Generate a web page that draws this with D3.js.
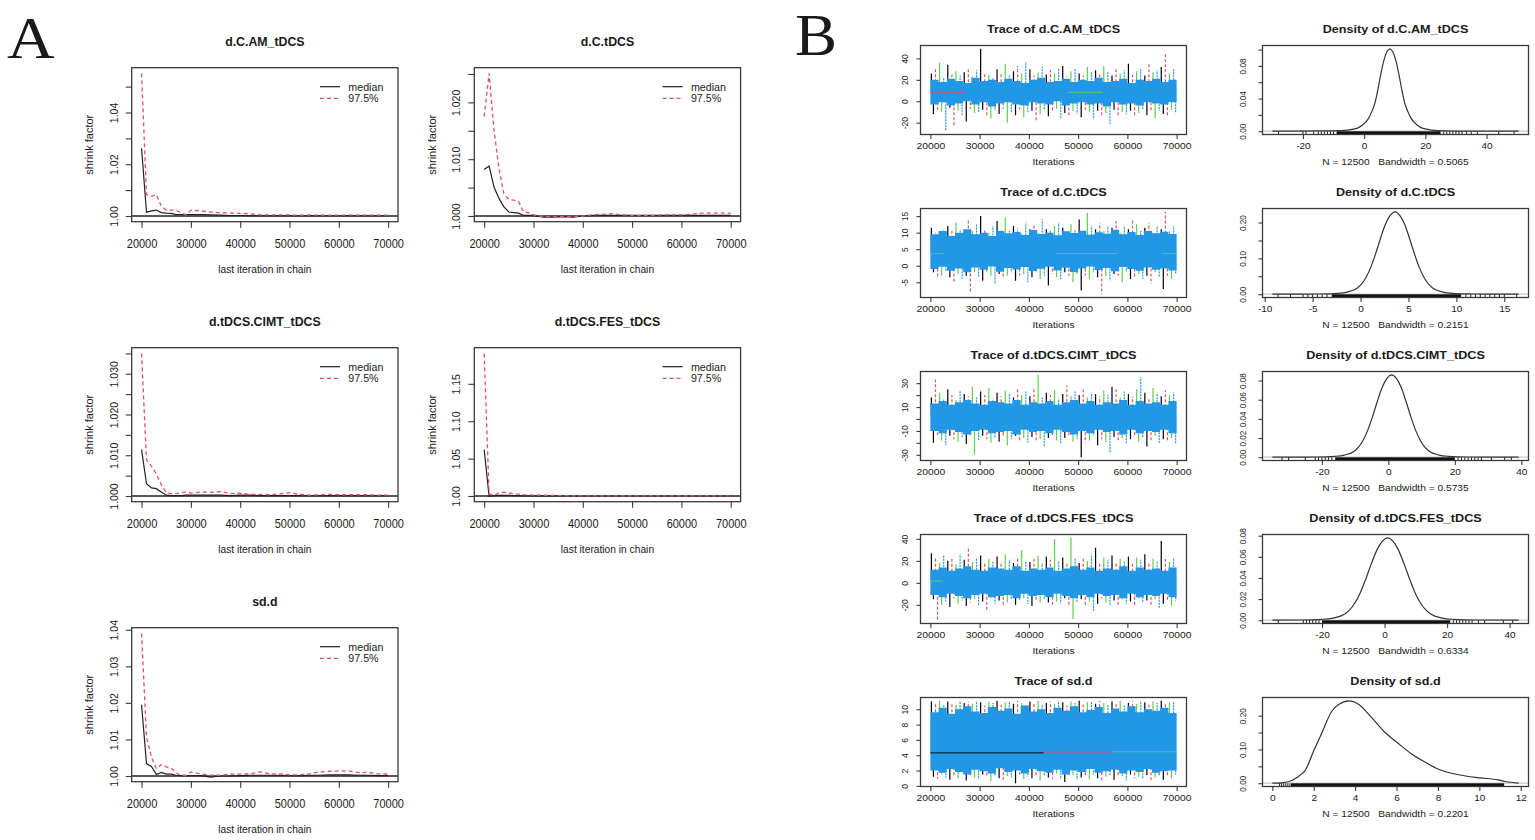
<!DOCTYPE html>
<html>
<head>
<meta charset="utf-8">
<script src="https://cdn.jsdelivr.net/npm/d3@7"></script>
<style>
  body { margin: 0; background: #fff; }
  svg { display: block; }
  text { white-space: pre; }
</style>
</head>
<body>
<svg id="fig" width="1535" height="840"></svg>
<script>
// ---------- data ----------
var params = ["d.C.AM_tDCS", "d.C.tDCS", "d.tDCS.CIMT_tDCS", "d.tDCS.FES_tDCS", "sd.d"];
var chainColors = ["#000000", "#DF536B", "#61D04F", "#2297E6"];

// Gelman-Rubin shrink factor (A)
var gelmanIter = [20000, 21000, 22000, 23000, 24000, 25000, 26000, 27000, 28000, 29000, 30000,
  32000, 34000, 36000, 38000, 40000, 42000, 44000, 46000, 48000, 50000,
  52000, 54000, 56000, 58000, 60000, 62000, 64000, 66000, 68000, 70000];

var medianAM = [1.0261, 1.0015, 1.002, 1.0023, 1.0013, 1.0011, 1.001, 1.0005, 1.0005, 1.0005, 1.0005,
  1.0005, 1.0004, 1.0003, 1.0002, 1.0002, 1.0001, 1.0001, 1.0001, 1.0001, 1.0001,
  1.0001, 1.0002, 1.0001, 1.0001, 1.0001, 1.0002, 1.0001, 1.0001, 1.0001, 1.0001];
var upperAM = [1.0551, 1.0083, 1.0076, 1.0083, 1.0038, 1.0023, 1.0023, 1.0022, 1.0012, 1.0005, 1.0022,
  1.002, 1.0015, 1.0013, 1.0011, 1.001, 1.0009, 1.0004, 1.0004, 1.0004, 1.0004,
  1.0003, 1.0004, 1.0003, 1.0003, 1.0003, 1.0004, 1.0003, 1.0004, 1.0003, 1.0003];

var medianC = [1.0082, 1.0088, 1.0051, 1.0031, 1.0016, 1.0007, 1.0006, 1.0005, 1.0001, 1.0001, 1.0001,
  0.9998, 0.9998, 0.9999, 0.9998, 1.0, 1.0001, 1.0001, 1.0001, 1.0001, 1.0001,
  1.0001, 1.0001, 1.0001, 1.0001, 1.0001, 1.0001, 1.0001, 1.0001, 1.0001, 1.0001];
var upperC = [1.0175, 1.0251, 1.0151, 1.0084, 1.0039, 1.0029, 1.0028, 1.0025, 1.0007, 1.0006, 1.0002,
  0.9999, 0.9999, 0.9999, 0.9999, 1.0, 1.0002, 1.0003, 1.0004, 1.0002, 1.0001,
  1.0001, 1.0001, 1.0002, 1.0002, 1.0002, 1.0003, 1.0005, 1.0005, 1.0005, 1.0005];

var medianCIMT = [1.0114, 1.003, 1.002, 1.0018, 1.001, 1.0002, 1.0001, 1.0001, 1.0001, 1.0002, 1.0002,
  1.0002, 1.0002, 1.0002, 1.0001, 1.0002, 1.0002, 1.0001, 1.0001, 1.0001, 1.0001,
  1.0001, 1.0001, 1.0001, 1.0001, 1.0001, 1.0001, 1.0001, 1.0001, 1.0001, 1.0001];
var upperCIMT = [1.035, 1.0089, 1.0073, 1.0054, 1.0028, 1.0008, 1.0006, 1.0006, 1.0008, 1.001, 1.0007,
  1.001, 1.0009, 1.0011, 1.0006, 1.0007, 1.0004, 1.0004, 1.0003, 1.0005, 1.0008,
  1.0004, 1.0002, 1.0003, 1.0004, 1.0003, 1.0003, 1.0003, 1.0003, 1.0002, 1.0002];

var medianFES = [1.0622, 0.9995, 1.0004, 1.0007, 1.0009, 1.0008, 1.0005, 1.0004, 1.0002, 1.0001, 1.0001,
  1.0001, 1.0001, 1.0, 1.0, 1.0, 1.0, 1.0, 1.0, 1.0, 1.0,
  1.0, 1.0, 1.0, 1.0, 1.0, 1.0, 1.0, 1.0, 1.0, 1.0];
var upperFES = [1.1907, 1.003, 1.001, 1.004, 1.005, 1.004, 1.003, 1.0025, 1.0018, 1.0015, 1.0012,
  1.001, 1.0007, 1.0004, 1.0002, 1.0001, 1.0001, 1.0001, 1.0001, 1.0001, 1.0001,
  1.0001, 1.0001, 1.0001, 1.0001, 1.0001, 1.0001, 1.0001, 1.0001, 1.0001, 1.0001];

var medianSD = [1.0195, 1.0034, 1.0026, 1.0004, 1.001, 1.0005, 1.0005, 1.0002, 1.0001, 1.0001, 1.0001,
  1.0001, 0.9997, 1.0, 1.0, 1.0001, 1.0002, 1.0002, 1.0002, 1.0002, 1.0001,
  1.0001, 1.0002, 1.0002, 1.0003, 1.0003, 1.0003, 1.0002, 1.0002, 1.0001, 1.0001];
var upperSD = [1.039, 1.0106, 1.0052, 1.002, 1.0031, 1.0025, 1.0022, 1.0008, 1.0002, 1.0002, 1.0011,
  1.0006, 1.0002, 1.0002, 1.0005, 1.0005, 1.0006, 1.0011, 1.0006, 1.0006, 1.0003,
  1.0003, 1.0006, 1.0011, 1.0013, 1.0014, 1.0014, 1.0009, 1.001, 1.0006, 1.0005];

var gelmanYTicks = [
  [1.00, 1.01, 1.02, 1.03, 1.04, 1.05],
  [1.000, 1.005, 1.010, 1.015, 1.020, 1.025],
  [1.000, 1.005, 1.010, 1.015, 1.020, 1.025, 1.030, 1.035],
  [1.00, 1.05, 1.10, 1.15],
  [1.00, 1.01, 1.02, 1.03, 1.04]];
var gelmanYLabels = [
  ["1.00", "1.02", "1.04"],
  ["1.000", "1.010", "1.020"],
  ["1.000", "1.010", "1.020", "1.030"],
  ["1.00", "1.05", "1.10", "1.15"],
  ["1.00", "1.01", "1.02", "1.03", "1.04"]];
var iterTicks = [20000, 30000, 40000, 50000, 60000, 70000];
var iterLabels = ["20000", "30000", "40000", "50000", "60000", "70000"];

// Trace plots (B): extreme excursions per stretch of iterations, chain = index mod 4
var traceHiAM = [26, 30, 36, 22, 34, 25, 28, 24, 27, 31, 23, 29, 49, 27, 25, 22, 30, 26, 35, 24,
  28, 33, 26, 37, 30, 24, 27, 32, 25, 29, 26, 31, 33, 23, 28, 30, 26, 24, 32, 27,
  29, 25, 33, 27, 24, 30, 26, 29, 35, 25, 28, 31, 24, 36, 27, 29, 32, 44, 26, 30];
var traceLoAM = [-12, -8, -10, -28, -6, -24, -9, -13, -19, -7, -11, -10, -8, -14, -16, -9, -12, -7, -20, -10,
  -13, -8, -15, -11, -9, -18, -12, -8, -14, -10, -7, -16, -11, -13, -9, -12, -15, -8, -10, -17,
  -9, -13, -11, -21, -8, -14, -10, -12, -9, -15, -11, -8, -13, -10, -16, -9, -12, -14, -8, -11];
var traceHiC = [11.5, 10, 9.5, 11, 12, 10.5, 13, 11, 9.8, 14, 10.5, 12.5, 15, 11, 10, 12, 13.5, 11, 14.5, 10.5,
  12, 11.5, 9.8, 13, 11, 12.5, 10, 14, 11, 10.5, 12, 13, 11.5, 9.9, 12.5, 11, 14, 10.5, 16, 12,
  11, 13, 10.5, 12, 11.5, 13.5, 10, 12, 11, 14, 12.5, 10.5, 11.5, 13, 10, 12, 11, 16.3, 10.5, 12];
var traceLoC = [-2, -4, -3, -1.5, -3.5, -5, -2.5, -4, -3, -8, -2, -3.5, -4.5, -2, -3, -5.5, -2.5, -4, -3, -2,
  -4.5, -3, -2.5, -5, -3.5, -2, -4, -3, -6, -2.5, -3.5, -4, -2, -3, -5, -2.5, -7.5, -3, -4, -2,
  -3.5, -8.6, -3, -4.5, -2.5, -3, -5, -2, -4, -3.5, -2.5, -4, -3, -5.5, -2, -3.5, -7, -3, -4, -2.5];
var traceHiCIMT = [18, 33, 22, 17, 25, 20, 16, 24, 21, 19, 27, 18, 23, 20, 26, 17, 22, 19, 24, 21,
  18, 25, 20, 23, 19, 26, 37, 18, 22, 20, 24, 17, 21, 28, 19, 23, 20, 25, 18, 22,
  21, 19, 24, 20, 27, 25, 18, 23, 21, 19, 25, 35, 22, 18, 26, 21, 19, 24, 20, 22];
var traceLoCIMT = [-20, -15, -18, -22, -14, -17, -19, -16, -21, -15, -30, -18, -14, -17, -20, -16, -19, -15, -22, -17,
  -14, -18, -16, -20, -15, -19, -17, -23, -16, -14, -18, -21, -16, -15, -19, -17, -32, -20, -18, -14,
  -22, -17, -19, -28, -15, -18, -16, -21, -17, -15, -19, -16, -23, -18, -14, -20, -17, -19, -16, -21];
var traceHiFES = [27, 22, 18, 25, 20, 24, 17, 26, 21, 33, 19, 23, 25, 18, 22, 20, 24, 19, 26, 21,
  18, 23, 30, 20, 19, 22, 25, 18, 24, 21, 40, 20, 23, 19, 41, 22, 18, 24, 20, 26,
  32, 19, 23, 21, 25, 18, 22, 20, 24, 19, 23, 21, 26, 18, 22, 20, 38, 24, 19, 23];
var traceLoFES = [-15, -34, -20, -17, -22, -14, -19, -16, -21, -18, -15, -20, -17, -25, -14, -19, -16, -22, -18, -15,
  -20, -17, -14, -19, -21, -16, -18, -15, -18, -20, -17, -19, -14, -22, -33, -18, -15, -20, -17, -26,
  -19, -14, -18, -21, -16, -20, -15, -19, -17, -22, -14, -18, -16, -20, -15, -23, -19, -17, -21, -16];
var traceHiSD = [11, 10.8, 11.1, 10.5, 11, 10.9, 10.6, 11.1, 10.8, 11, 10.7, 11.1, 10.9, 10.5, 11, 10.8, 11.1, 10.6, 10.9, 11,
  10.7, 11.1, 10.8, 10.5, 11, 10.9, 11.1, 10.6, 10.8, 11, 10.7, 11.1, 10.9, 10.5, 11, 10.8, 11.1, 10.6, 10.9, 11,
  10.7, 11.1, 10.8, 10.6, 11, 10.9, 11.1, 10.5, 10.8, 11, 10.7, 11.1, 10.9, 10.6, 11, 10.8, 11.1, 10.7, 10.9, 11];
var traceLoSD = [1.2, 0.9, 1.5, 1.1, 0.8, 1.4, 1.0, 1.6, 0.7, 1.3, 1.1, 0.9, 1.5, 1.2, 0.6, 1.4, 1.0, 0.8, 1.3, 1.1,
  0.35, 1.5, 0.9, 1.2, 1.0, 1.4, 0.7, 1.3, 1.1, 0.9, 1.6, 1.0, 0.5, 1.2, 1.4, 0.8, 1.1, 1.3, 0.9, 1.5,
  1.0, 0.6, 1.2, 1.4, 0.8, 1.1, 1.3, 0.7, 1.5, 1.0, 1.2, 0.9, 1.4, 0.6, 1.1, 1.3, 0.8, 1.2, 1.0, 1.5];

var traceMean = [8.4, 3.7, 1.5, 1.0, 4.4];
// dense central band of the last (blue) chain, in equal stretches of iterations
var coreHiAM = [20, 18, 21, 19, 17, 22, 19, 20, 18, 21, 19, 17, 20, 22, 18, 19, 21, 18, 20, 19,
  22, 18, 19, 21, 17, 20, 19, 21, 18, 20];
var coreLoAM = [-3, -1, -4, -2, 0, -3, -1, -5, -2, -1, -3, -4, -1, -2, -3, 0, -4, -2, -1, -3,
  -2, -5, -1, -3, -2, -4, -1, -2, -3, -1];
var coreHiC = [9.5, 10.5, 9, 10, 11, 9.5, 10, 9, 10.5, 9.8, 10.2, 9.3, 10.8, 9.6, 10, 9.2, 10.4, 9.9, 10.6, 9.4,
  10.1, 9.7, 10.9, 9.5, 10.2, 9.3, 10.5, 9.8, 10.3, 9.6];
var coreLoC = [-1, -0.3, -1.5, -0.8, -2, -0.5, -1.2, -0.2, -1.8, -0.7, -1.1, -0.4, -1.6, -0.9, -0.3, -1.4, -0.6, -1.9, -0.8, -0.2,
  -1.3, -0.7, -1.7, -0.4, -1, -1.5, -0.5, -1.2, -0.8, -1.4];
var coreHiCIMT = [13, 15, 12, 14, 16, 13, 12, 15, 14, 13, 16, 12, 14, 13, 15, 12, 14, 16, 13, 15,
  12, 14, 13, 16, 12, 15, 13, 14, 12, 15];
var coreLoCIMT = [-10, -12, -9, -11, -13, -10, -9, -12, -11, -10, -13, -9, -11, -10, -12, -9, -11, -13, -10, -12,
  -9, -11, -10, -13, -9, -12, -10, -11, -9, -12];
var coreHiFES = [12, 14, 11, 13, 15, 12, 11, 14, 13, 12, 15, 11, 13, 12, 14, 11, 13, 15, 12, 14,
  11, 13, 12, 15, 11, 14, 12, 13, 11, 14];
var coreLoFES = [-11, -13, -10, -12, -14, -11, -10, -13, -12, -11, -14, -10, -12, -11, -13, -10, -12, -14, -11, -13,
  -10, -12, -11, -14, -10, -13, -11, -12, -10, -13];
var coreHiSD = [9.6, 10.2, 9.4, 10, 10.4, 9.7, 9.5, 10.3, 9.8, 10.1, 9.4, 10.5, 9.7, 10, 9.5, 10.2, 9.8, 10.4, 9.6, 9.9,
  10.3, 9.5, 10.1, 9.7, 10.4, 9.6, 10, 9.8, 10.2, 9.5];
var coreLoSD = [2, 1.7, 2.2, 1.8, 1.5, 2.1, 1.9, 1.6, 2.3, 1.8, 2, 1.6, 2.2, 1.9, 1.7, 2.1, 1.5, 2, 1.8, 2.2,
  1.7, 1.9, 2.1, 1.6, 2, 1.8, 2.2, 1.7, 1.9, 2];
// flat running segments visible in the traces: [from, to, value, chain]
var flatAM = [[20000, 27000, 8.2, 1], [48000, 55000, 8.3, 2]];
var flatC = [[20000, 23000, 3.7, 2], [45500, 58000, 3.7, 2], [67000, 70000, 3.7, 2]];
var flatCIMT = [];
var flatFES = [[20000, 22500, 1.5, 2]];
var flatSD = [[20000, 43000, 4.3, 0], [43000, 57000, 4.4, 1], [57000, 70000, 4.45, 2]];

var traceYTicks = [[-20, 0, 20, 40], [-5, 0, 5, 10, 15], [-30, -20, -10, 0, 10, 20, 30], [-20, 0, 20, 40], [0, 2, 4, 6, 8, 10]];
var traceYLabels = [["-20", "0", "20", "40"], ["-5", "0", "5", "10", "15"], ["-30", "-10", "10", "30"], ["-20", "0", "20", "40"], ["0", "2", "4", "6", "8", "10"]];

// Density curves (B): [x, density]
var densAM = [[-30, 0], [-22, 0.0001], [-15, 0.0003], [-7.4, 0.0006], [-3.5, 0.0025], [-1.5, 0.005], [0.5, 0.011],
  [1.5, 0.016], [2.5, 0.024], [3.5, 0.034], [4.5, 0.051], [5.4, 0.069], [6.4, 0.086], [7.4, 0.097], [8.4, 0.101],
  [9.4, 0.097], [10.4, 0.086], [11.4, 0.069], [12.3, 0.051], [13.3, 0.034], [14.3, 0.024], [15.3, 0.016],
  [16.3, 0.011], [18.3, 0.005], [20.3, 0.0025], [24.2, 0.0006], [30, 0.0002], [38, 0.00005], [50.5, 0]];
var densC = [[-9.2, 0], [-6, 0.0002], [-4.4, 0.0006], [-2.4, 0.0025], [-1.4, 0.006], [-0.4, 0.016], [0.1, 0.028],
  [0.6, 0.048], [1.1, 0.077], [1.6, 0.115], [2.1, 0.157], [2.6, 0.195], [3.1, 0.22], [3.6, 0.23], [4.1, 0.22],
  [4.6, 0.195], [5.1, 0.157], [5.6, 0.115], [6.1, 0.077], [6.6, 0.048], [7.1, 0.028], [7.6, 0.016], [8.6, 0.006],
  [9.6, 0.0025], [11.6, 0.0006], [13.5, 0.0001], [16.5, 0]];
var densCIMT = [[-34.9, 0], [-27.5, 0.00006], [-21.8, 0.00022], [-16.1, 0.00095], [-13.25, 0.0022], [-10.4, 0.006],
  [-8.98, 0.0105], [-7.55, 0.018], [-6.13, 0.0288], [-4.7, 0.043], [-3.28, 0.0587], [-1.85, 0.0729], [-0.43, 0.0823],
  [1.0, 0.086], [2.43, 0.0823], [3.85, 0.0729], [5.28, 0.0587], [6.7, 0.043], [8.13, 0.0288], [9.55, 0.018],
  [10.98, 0.0105], [12.4, 0.006], [15.25, 0.0022], [18.1, 0.00095], [23.8, 0.00022], [29.5, 0.00006], [39.2, 0]];
var densFES = [[-35.9, 0], [-27, 0.0002], [-20, 0.00086], [-16.5, 0.002], [-13, 0.0055], [-11.25, 0.0095], [-9.5, 0.0163],
  [-7.75, 0.0261], [-6, 0.039], [-4.25, 0.0533], [-2.5, 0.0661], [-0.75, 0.0746], [1.0, 0.078], [2.75, 0.0746],
  [4.5, 0.0661], [6.25, 0.0533], [8, 0.039], [9.75, 0.0261], [11.5, 0.0163], [13.25, 0.0095], [15, 0.0055],
  [18.5, 0.002], [22, 0.00086], [29, 0.0002], [42.9, 0]];
var densSD = [[0, 0], [0.45, 0.001], [0.94, 0.008], [1.26, 0.02], [1.58, 0.037], [2.0, 0.096], [2.4, 0.15], [2.87, 0.213],
  [3.2, 0.233], [3.7, 0.244], [4.16, 0.234], [4.8, 0.194], [5.45, 0.15], [6.0, 0.122], [6.74, 0.086], [7.4, 0.062],
  [8.0, 0.042], [9.0, 0.025], [10.0, 0.016], [10.9, 0.01], [11.25, 0.005], [11.9, 0]];

// rug of the samples: dense span and isolated values
var rugSpan = [[-9, 25], [-3, 10.5], [-16, 20], [-20, 21], [0.9, 11.2]];
var rugAM = [-28, -20, -19, -16.5, -15, -14, -13, -12, -11, -10, 26, 27, 28, 29, 30, 31, 32, 33.5, 35, 37, 44, 49];
var rugC = [-8.6, -7.3, -6, -5.5, -5, -4.5, -4, -3.5, 11, 11.5, 12, 12.5, 13, 13.5, 14, 14.5, 15, 16.3];
var rugCIMT = [-32, -30, -25, -22, -21, -20, -19, -18, -17, 21, 22, 23, 24, 25, 26, 27, 28, 31, 35, 37];
var rugFES = [-34, -26, -25, -24, -23, -22, -21, 22, 23, 24, 25, 26, 27, 28, 30, 32, 38, 41];
var rugSD = [0.35, 0.45, 0.55, 0.65, 0.75, 0.85];

var densXTicks = [[-20, 0, 20, 40], [-10, -5, 0, 5, 10, 15], [-20, 0, 20, 40], [-20, 0, 20, 40], [0, 2, 4, 6, 8, 10, 12]];
var densYTicks = [[0, 0.02, 0.04, 0.06, 0.08, 0.10], [0, 0.05, 0.10, 0.15, 0.20], [0, 0.02, 0.04, 0.06, 0.08],
  [0, 0.02, 0.04, 0.06, 0.08], [0, 0.05, 0.10, 0.15, 0.20]];
var densYLabels = [["0.00", "0.04", "0.08"], ["0.00", "0.10", "0.20"], ["0.00", "0.02", "0.04", "0.06", "0.08"],
  ["0.00", "0.02", "0.04", "0.06", "0.08"], ["0.00", "0.10", "0.20"]];
var nSamples = 12500;
var bandwidths = ["0.5065", "0.2151", "0.5735", "0.6334", "0.2201"];

// grouped references
var gelmanMedian = [medianAM, medianC, medianCIMT, medianFES, medianSD];
var gelmanUpper = [upperAM, upperC, upperCIMT, upperFES, upperSD];
var traceHi = [traceHiAM, traceHiC, traceHiCIMT, traceHiFES, traceHiSD];
var traceLo = [traceLoAM, traceLoC, traceLoCIMT, traceLoFES, traceLoSD];
var coreHi = [coreHiAM, coreHiC, coreHiCIMT, coreHiFES, coreHiSD];
var coreLo = [coreLoAM, coreLoC, coreLoCIMT, coreLoFES, coreLoSD];
var flats = [flatAM, flatC, flatCIMT, flatFES, flatSD];
var densCurves = [densAM, densC, densCIMT, densFES, densSD];
var rugs = [rugAM, rugC, rugCIMT, rugFES, rugSD];

// ---------- layout ----------
var FONT = "'Liberation Sans', Arial, Helvetica, sans-serif";
var INK = "#1a1a1a", BOX = "#3a3a3a";
var A = { cols: [131.7, 474.3], rows: [67.7, 347.7, 627.7], w: 266.3, h: 154 };
var gelmanCell = [[0, 0], [1, 0], [0, 1], [1, 1], [0, 2]];
var B = { tx: 920.5, dx: 1262.5, top: 45.5, step: 163, w: 266, h: 89 };

var svg = d3.select("#fig");

function pad(ext) { var d = (ext[1] - ext[0]) * 0.04; return [ext[0] - d, ext[1] + d]; }

function txt(g, x, y, s, size, o) {
  o = o || {};
  return g.append("text")
    .attr("transform", "translate(" + x + "," + y + ")" + (o.rot ? " rotate(-90)" : "") + " scale(" + (o.sx || 1) + ",1)")
    .attr("text-anchor", o.anchor || "middle")
    .attr("font-family", o.serif ? "'Liberation Serif', 'Times New Roman', serif" : FONT)
    .attr("font-size", size)
    .attr("font-weight", o.bold ? "bold" : null)
    .attr("fill", INK)
    .attr("xml:space", "preserve")
    .text(s);
}

function labelFmt(labels) {
  return function (d) {
    var s = labels.find(function (l) { return Math.abs(+l - d) < 1e-9; });
    return s === undefined ? "" : s;
  };
}

function xAxis(g, scale, ticks, labels, h, o) {
  var ax = g.append("g").attr("transform", "translate(0," + h + ")")
    .call(d3.axisBottom(scale).tickValues(ticks).tickFormat(labelFmt(labels)).tickSize(o.tick));
  ax.select(".domain").remove();
  ax.attr("font-family", FONT).attr("font-size", o.fs).attr("color", BOX);
  ax.selectAll("line").attr("stroke-width", 1.1);
  ax.selectAll("text").attr("y", o.ly).attr("dy", null).attr("fill", INK)
    .attr("transform", "scale(" + o.sx + ",1)");
}

function yAxis(g, scale, ticks, labels, o) {
  var ax = g.append("g")
    .call(d3.axisLeft(scale).tickValues(ticks).tickFormat(labelFmt(labels)).tickSize(o.tick));
  ax.select(".domain").remove();
  ax.attr("font-family", FONT).attr("font-size", o.fs).attr("color", BOX);
  ax.selectAll("line").attr("stroke-width", 1.1);
  ax.selectAll("text").attr("x", null).attr("dy", null).attr("fill", INK)
    .attr("text-anchor", "middle")
    .attr("transform", "translate(" + (-o.lx) + ",0) rotate(-90)");
}

function box(g, w, h) {
  g.append("rect").attr("width", w).attr("height", h)
    .attr("fill", "none").attr("stroke", BOX).attr("stroke-width", 1.3);
}

function clip(g, id, w, h) {
  svg.append("clipPath").attr("id", id).append("rect").attr("width", w).attr("height", h);
  return g.append("g").attr("clip-path", "url(#" + id + ")");
}

// ---------- panel A: Gelman plots ----------
function gelmanPlot(i) {
  var left = A.cols[gelmanCell[i][0]], top = A.rows[gelmanCell[i][1]];
  var g = svg.append("g").attr("transform", "translate(" + left + "," + top + ")");
  var med = gelmanMedian[i], upr = gelmanUpper[i];
  var x = d3.scaleLinear().domain(pad(d3.extent(gelmanIter))).range([0, A.w]);
  var y = d3.scaleLinear().domain(pad([1, d3.max(upr.concat(med))])).range([A.h, 0]);
  var inner = clip(g, "gc" + i, A.w, A.h);

  inner.append("line").attr("x1", 0).attr("x2", A.w).attr("y1", y(1)).attr("y2", y(1))
    .attr("stroke", "#222").attr("stroke-width", 1.3);

  var line = d3.line().x(function (d, j) { return x(gelmanIter[j]); }).y(function (d) { return y(d); });
  inner.append("path").datum(med).attr("d", line)
    .attr("fill", "none").attr("stroke", "#222").attr("stroke-width", 1.2);
  inner.append("path").datum(upr).attr("d", line)
    .attr("fill", "none").attr("stroke", chainColors[1]).attr("stroke-width", 1.3).attr("stroke-dasharray", "4,3");

  box(g, A.w, A.h);
  xAxis(g, x, iterTicks, iterLabels, A.h, { tick: 6, fs: 12.5, ly: 26, sx: 0.88 });
  yAxis(g, y, gelmanYTicks[i], gelmanYLabels[i], { tick: 6, fs: 10.5, lx: 14 });

  txt(g, A.w / 2, -21.7, params[i], 13, { bold: true, sx: 0.95 });
  txt(g, A.w / 2, A.h + 51, "last iteration in chain", 11.5, { sx: 0.89 });
  txt(g, -38.5, A.h / 2, "shrink factor", 11, { rot: true });

  // legend
  var lg = g.append("g").attr("transform", "translate(188.3,19)");
  lg.append("line").attr("x1", 0).attr("x2", 20).attr("y1", 0).attr("y2", 0)
    .attr("stroke", "#222").attr("stroke-width", 1.2);
  lg.append("line").attr("x1", 0).attr("x2", 20).attr("y1", 11.6).attr("y2", 11.6)
    .attr("stroke", chainColors[1]).attr("stroke-width", 1.3).attr("stroke-dasharray", "4,3");
  txt(lg, 28.3, 4, "median", 11.5, { anchor: "start", sx: 0.93 });
  txt(lg, 28.3, 15.6, "97.5%", 11.5, { anchor: "start", sx: 0.93 });
}

// ---------- panel B: traces ----------
function tracePlot(i) {
  var top = B.top + i * B.step;
  var g = svg.append("g").attr("transform", "translate(" + B.tx + "," + top + ")");
  var hi = traceHi[i], lo = traceLo[i];
  var x = d3.scaleLinear().domain(pad([20000, 70000])).range([0, B.w]);
  var y = d3.scaleLinear().domain(pad(d3.extent(hi.concat(lo)))).range([B.h, 0]);
  var inner = clip(g, "tc" + i, B.w, B.h);

  var stepIt = 50000 / hi.length;
  var spikes = [];
  hi.forEach(function (v, k) { spikes.push({ it: 20000 + (k + 0.25) * stepIt, v: v, c: k % 4 }); });
  lo.forEach(function (v, k) { spikes.push({ it: 20000 + (k + 0.75) * stepIt, v: v, c: k % 4 }); });
  var dash = ["none", "3,2", "none", "2,1"];

  function drawSpikes(data) {
    inner.selectAll(null).data(data).enter().append("line")
      .attr("x1", function (d) { return x(d.it); }).attr("x2", function (d) { return x(d.it); })
      .attr("y1", y(traceMean[i])).attr("y2", function (d) { return y(d.v); })
      .attr("stroke", function (d) { return chainColors[d.c]; })
      .attr("stroke-dasharray", function (d) { return dash[d.c]; })
      .attr("stroke-width", 1.2);
  }
  drawSpikes(spikes.filter(function (d) { return d.c !== 3; }));

  // blue band, stepped over equal stretches of iterations
  var ch = coreHi[i], cl = coreLo[i], cStep = 50000 / ch.length;
  var band = ch.map(function (v, k) { return { it: 20000 + k * cStep, hi: v, lo: cl[k] }; });
  band.push({ it: 70000, hi: ch[ch.length - 1], lo: cl[cl.length - 1] });
  var area = d3.area().curve(d3.curveStepAfter)
    .x(function (d) { return x(d.it); })
    .y0(function (d) { return y(d.lo); })
    .y1(function (d) { return y(d.hi); });
  inner.append("path").datum(band).attr("d", area).attr("fill", chainColors[3]);

  drawSpikes(spikes.filter(function (d) { return d.c === 3; }));

  inner.selectAll(null).data(flats[i]).enter().append("line")
    .attr("x1", function (d) { return x(d[0]); }).attr("x2", function (d) { return x(d[1]); })
    .attr("y1", function (d) { return y(d[2]); }).attr("y2", function (d) { return y(d[2]); })
    .attr("stroke", function (d) { return chainColors[d[3]]; })
    .attr("stroke-opacity", 0.75).attr("stroke-width", 1.2);

  box(g, B.w, B.h);
  xAxis(g, x, iterTicks, iterLabels, B.h, { tick: 4.5, fs: 8.5, ly: 14.5, sx: 1.22 });
  yAxis(g, y, traceYTicks[i], traceYLabels[i], { tick: 4, fs: 8.5, lx: 13 });
  txt(g, B.w / 2, -12.2, "Trace of " + params[i], 10.7, { bold: true, sx: 1.18 });
  txt(g, B.w / 2, B.h + 30.5, "Iterations", 8.3, { sx: 1.23 });
}

// ---------- panel B: densities ----------
function densPlot(i) {
  var top = B.top + i * B.step;
  var g = svg.append("g").attr("transform", "translate(" + B.dx + "," + top + ")");
  var pts = densCurves[i];
  var x = d3.scaleLinear().domain(pad(d3.extent(pts, function (d) { return d[0]; }))).range([0, B.w]);
  var y = d3.scaleLinear().domain(pad([0, d3.max(pts, function (d) { return d[1]; })])).range([B.h, 0]);
  var inner = clip(g, "dc" + i, B.w, B.h);

  inner.append("line").attr("x1", 0).attr("x2", B.w).attr("y1", y(0)).attr("y2", y(0))
    .attr("stroke", "#c8c8c8").attr("stroke-width", 1.2);

  inner.append("path").datum(pts)
    .attr("d", d3.line().curve(d3.curveMonotoneX)
      .x(function (d) { return x(d[0]); }).y(function (d) { return y(d[1]); }))
    .attr("fill", "none").attr("stroke", "#333").attr("stroke-width", 1.2);

  // rug
  var span = rugSpan[i];
  inner.append("rect").attr("x", x(span[0])).attr("width", x(span[1]) - x(span[0]))
    .attr("y", B.h - 3.2).attr("height", 3.2).attr("fill", "#111");
  inner.selectAll(null).data(rugs[i]).enter().append("line")
    .attr("x1", function (d) { return x(d); }).attr("x2", function (d) { return x(d); })
    .attr("y1", B.h).attr("y2", B.h - 3.2)
    .attr("stroke", "#222").attr("stroke-width", 1);

  box(g, B.w, B.h);
  var xl = densXTicks[i].map(String);
  xAxis(g, x, densXTicks[i], xl, B.h, { tick: 4.5, fs: 8.5, ly: 14.5, sx: 1.18 });
  yAxis(g, y, densYTicks[i], densYLabels[i], { tick: 4, fs: 8.2, lx: 17 });
  txt(g, B.w / 2, -12.2, "Density of " + params[i], 10.7, { bold: true, sx: 1.18 });
  txt(g, B.w / 2, B.h + 30, "N = " + nSamples + "   Bandwidth = " + bandwidths[i], 8.3, { sx: 1.23 });
}

for (var i = 0; i < params.length; i++) {
  gelmanPlot(i);
  tracePlot(i);
  densPlot(i);
}

// panel letters
txt(svg, 7, 58, "A", 60, { anchor: "start", serif: true, sx: 1.1 });
txt(svg, 795, 55, "B", 60, { anchor: "start", serif: true, sx: 1.05 });
</script>
</body>
</html>
